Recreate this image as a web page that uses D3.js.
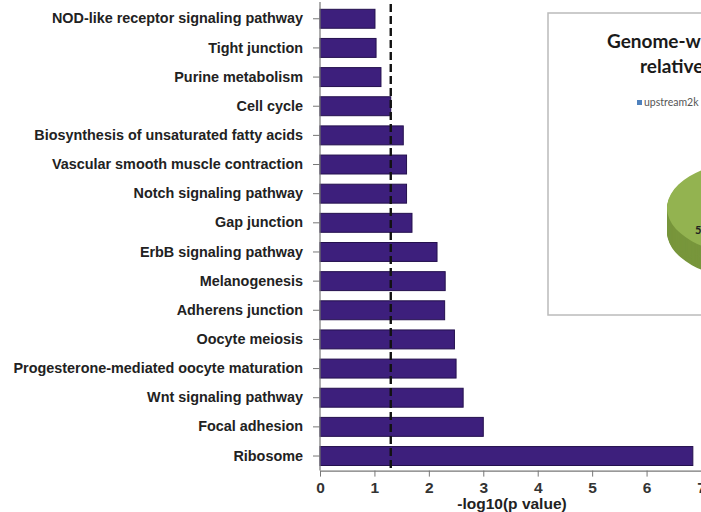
<!DOCTYPE html>
<html>
<head>
<meta charset="utf-8">
<script src="https://cdn.jsdelivr.net/npm/d3@7"></script>
<style>
  body { margin: 0; background: #fff; }
  svg { display: block; }
</style>
</head>
<body>
<svg width="701" height="512"></svg>
<script>
// pathway names, top to bottom
var pathways = ['NOD-like receptor signaling pathway', 'Tight junction', 'Purine metabolism', 'Cell cycle',
  'Biosynthesis of unsaturated fatty acids', 'Vascular smooth muscle contraction', 'Notch signaling pathway',
  'Gap junction', 'ErbB signaling pathway', 'Melanogenesis', 'Adherens junction', 'Oocyte meiosis',
  'Progesterone-mediated oocyte maturation', 'Wnt signaling pathway', 'Focal adhesion', 'Ribosome'];
var logP = [1.01, 1.03, 1.12, 1.30, 1.53, 1.59, 1.59, 1.69, 2.15, 2.30, 2.29, 2.47, 2.50, 2.63, 3.00, 6.85];
var xTicks = [0, 1, 2, 3, 4, 5, 6, 7];
var cutoff = 1.3; // -log10(0.05)

// inset pie (mostly cut off on the right)
var pieLabels = ['upstream2k', 'gene body', 'intergenic'];
var pieValues = [8, 38, 54];
var pieColors = ['#4f81bd', '#c0504d', '#93b350'];
var pieSide = ['#3c6494', '#983d3a', '#78963c'];

var svg = d3.select('svg');

var x = d3.scaleLinear().domain([0, 7]).range([320, 701]);
var y = d3.scaleBand().domain(pathways).range([4.2, 470.6])
  .paddingInner(0.35).paddingOuter(0.175);

// bars
svg.append('g').selectAll('rect')
  .data(pathways)
  .enter()
  .append('rect')
  .attr('x', x(0))
  .attr('y', d => y(d))
  .attr('width', (d, i) => x(logP[i]) - x(0))
  .attr('height', y.bandwidth())
  .attr('fill', '#3d1f7c')
  .attr('stroke', '#24104e')
  .attr('stroke-width', 1);

// y axis
var yAxis = svg.append('g')
  .attr('transform', 'translate(' + x(0) + ',0)')
  .call(d3.axisLeft(y).tickSize(7).tickPadding(10));
yAxis.select('.domain').attr('stroke', '#777').attr('stroke-width', 1.2)
  .attr('d', 'M0,2V' + 470.6);
yAxis.selectAll('.tick line').attr('stroke', '#777');
yAxis.selectAll('text')
  .attr('font-family', 'Liberation Sans, Arial, sans-serif')
  .attr('font-weight', 'bold')
  .attr('font-size', '14.4px')
  .attr('fill', '#222');

// x axis
var xAxis = svg.append('g')
  .attr('transform', 'translate(0,470.6)')
  .call(d3.axisBottom(x).tickValues(xTicks).tickFormat(d3.format('d'))
    .tickSize(6).tickPadding(5).tickSizeOuter(0));
xAxis.select('.domain').attr('stroke', '#777').attr('stroke-width', 1.2);
xAxis.selectAll('.tick line').attr('stroke', '#777');
xAxis.selectAll('text')
  .attr('font-family', 'Liberation Sans, Arial, sans-serif')
  .attr('font-weight', 'bold')
  .attr('font-size', '15.5px')
  .attr('fill', '#333');

svg.append('text')
  .attr('x', 512)
  .attr('y', 509)
  .attr('text-anchor', 'middle')
  .attr('font-family', 'Liberation Sans, Arial, sans-serif')
  .attr('font-weight', 'bold')
  .attr('font-size', '15.5px')
  .attr('fill', '#222')
  .text('-log10(p value)');

// significance cutoff
svg.append('line')
  .attr('x1', x(cutoff)).attr('x2', x(cutoff))
  .attr('y1', 4).attr('y2', 470)
  .attr('stroke', '#111')
  .attr('stroke-width', 2.4)
  .attr('stroke-dasharray', '8,4');

// inset panel
var inset = svg.append('g');
inset.append('rect')
  .attr('x', 548).attr('y', 13)
  .attr('width', 300).attr('height', 302)
  .attr('fill', '#fff')
  .attr('stroke', '#bbb')
  .attr('stroke-width', 1.5);

inset.append('text')
  .attr('x', 607).attr('y', 48)
  .attr('font-family', 'Lato, sans-serif')
  .attr('font-weight', 'bold')
  .attr('font-size', '19px')
  .attr('fill', '#1a1a1a')
  .text('Genome-wide distribution of DMRs');
inset.append('text')
  .attr('x', 640).attr('y', 73)
  .attr('font-family', 'Lato, sans-serif')
  .attr('font-weight', 'bold')
  .attr('font-size', '19px')
  .attr('fill', '#1a1a1a')
  .text('relative to genes');

// legend
var leg = inset.append('g').selectAll('g')
  .data(pieLabels)
  .enter()
  .append('g')
  .attr('transform', (d, i) => 'translate(' + (637 + i * 80) + ',100)');
leg.append('rect')
  .attr('width', 5).attr('height', 5)
  .attr('fill', (d, i) => pieColors[i]);
leg.append('text')
  .attr('x', 7).attr('y', 6)
  .attr('font-family', 'Lato, sans-serif')
  .attr('font-size', '10.5px')
  .attr('fill', '#555')
  .text(d => d);

// 3d pie
var rx = 90, ry = 48, depth = 24, cx = 667 + rx, cy = 208;
var pie = d3.pie().sort(null).startAngle(0).endAngle(Math.PI * 2);
var arcs = pie(pieValues);
var arc = d3.arc().innerRadius(0).outerRadius(rx);

var pieG = inset.append('g');
for (var k = depth; k > 0; k--) {
  pieG.append('g')
    .attr('transform', 'translate(' + cx + ',' + (cy + k) + ') scale(1,' + (ry / rx) + ')')
    .selectAll('path')
    .data(arcs)
    .enter()
    .append('path')
    .attr('d', arc)
    .attr('fill', (d, i) => pieSide[i]);
}
pieG.append('g')
  .attr('transform', 'translate(' + cx + ',' + cy + ') scale(1,' + (ry / rx) + ')')
  .selectAll('path')
  .data(arcs)
  .enter()
  .append('path')
  .attr('d', arc)
  .attr('fill', (d, i) => pieColors[i]);

pieG.selectAll('.pct')
  .data(arcs.filter((d, i) => i === 2))
  .enter()
  .append('text')
  .attr('x', 695)
  .attr('y', 234)
  .attr('font-family', 'Lato, sans-serif')
  .attr('font-weight', 'bold')
  .attr('font-size', '11px')
  .attr('fill', '#222')
  .text(d => d.data + '%');
</script>
</body>
</html>
